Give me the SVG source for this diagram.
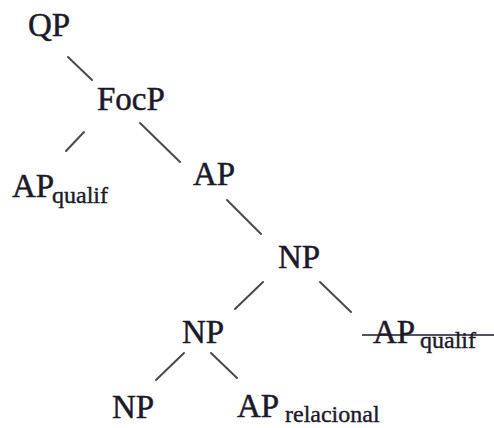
<svg xmlns="http://www.w3.org/2000/svg" width="494" height="428" viewBox="0 0 494 428">
  <style>
    .lbl { font-family: "Liberation Serif", "Times New Roman", serif; font-size: 33px; fill: #1c1a2a; stroke: #1c1a2a; stroke-width: 0.5px; }
    .sub { font-family: "Liberation Serif", "Times New Roman", serif; font-size: 24px; fill: #1c1a2a; stroke: #1c1a2a; stroke-width: 0.4px; }
    .edge { stroke: #4a4a4a; stroke-width: 2; stroke-linecap: round; }
  </style>
  <rect width="494" height="428" fill="#ffffff"/>
  <g id="connectors">
    <line class="edge" x1="68" y1="57" x2="92" y2="80"/>
    <line class="edge" x1="84" y1="132" x2="66" y2="151"/>
    <line class="edge" x1="140" y1="123" x2="180" y2="162"/>
    <line class="edge" x1="227" y1="200" x2="261" y2="234"/>
    <line class="edge" x1="263" y1="282" x2="235" y2="309"/>
    <line class="edge" x1="320" y1="282" x2="351" y2="312"/>
    <line class="edge" x1="184" y1="353" x2="156" y2="380"/>
    <line class="edge" x1="211" y1="353" x2="237" y2="378"/>
  </g>
  <g id="qp"><text class="lbl" x="28" y="36">QP</text></g>
  <g id="focp"><text class="lbl" x="97" y="110">FocP</text></g>
  <g id="ap-qualif"><text class="lbl" x="12" y="197">AP</text><text class="sub" x="52" y="203">qualif</text></g>
  <g id="ap"><text class="lbl" x="193" y="185">AP</text></g>
  <g id="np-top"><text class="lbl" x="278" y="268">NP</text></g>
  <g id="np-mid"><text class="lbl" x="182" y="343">NP</text></g>
  <g id="ap-qualif-struck">
    <text class="lbl" x="373" y="343">AP</text><text class="sub" x="420" y="348">qualif</text>
    <line x1="362" y1="335" x2="494" y2="335" stroke="#1c1a2a" stroke-width="1.6"/>
  </g>
  <g id="np-low"><text class="lbl" x="112" y="418">NP</text></g>
  <g id="ap-relacional"><text class="lbl" x="237" y="417">AP</text><text class="sub" x="285" y="422">relacional</text></g>
</svg>
